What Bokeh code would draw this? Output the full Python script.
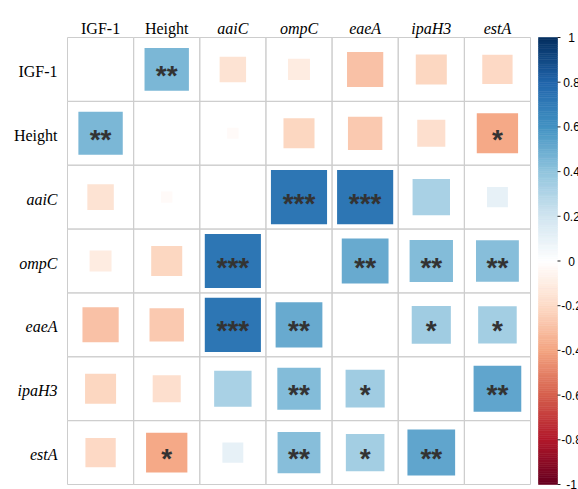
import numpy as np
from bokeh.plotting import figure
from bokeh.models import Range1d, ColumnDataSource, LinearColorMapper
from bokeh.transform import transform
from bokeh.core.properties import value
from bokeh.embed import file_html
from bokeh.resources import INLINE

# ---------------- data ----------------
var_labels = ["IGF-1", "Height", "aaiC", "ompC", "eaeA", "ipaH3", "estA"]
label_styles = ["normal", "normal", "italic", "italic", "italic", "italic", "italic"]

r_igf1 = [None, 0.45, -0.16, -0.11, -0.30, -0.22, -0.21]
r_height = [0.45, None, -0.03, -0.22, -0.27, -0.18, -0.39]
r_aaic = [-0.16, -0.03, None, 0.72, 0.72, 0.32, 0.10]
r_ompc = [-0.11, -0.22, 0.72, None, 0.50, 0.43, 0.42]
r_eaea = [-0.30, -0.27, 0.72, 0.50, None, 0.35, 0.34]
r_ipah3 = [-0.22, -0.18, 0.32, 0.43, 0.35, None, 0.52]
r_esta = [-0.21, -0.39, 0.10, 0.42, 0.34, 0.52, None]
r_matrix = [r_igf1, r_height, r_aaic, r_ompc, r_eaea, r_ipah3, r_esta]

sig_igf1 = ["", "**", "", "", "", "", ""]
sig_height = ["**", "", "", "", "", "", "*"]
sig_aaic = ["", "", "", "***", "***", "", ""]
sig_ompc = ["", "", "***", "", "**", "**", "**"]
sig_eaea = ["", "", "***", "**", "", "*", "*"]
sig_ipah3 = ["", "", "", "**", "*", "", "**"]
sig_esta = ["", "*", "", "**", "*", "**", ""]
sig_matrix = [sig_igf1, sig_height, sig_aaic, sig_ompc, sig_eaea, sig_ipah3, sig_esta]

cbar_ticks = [1.0, 0.8, 0.6, 0.4, 0.2, 0.0, -0.2, -0.4, -0.6, -0.8, -1.0]
cbar_tick_labels = ["1", "0.8", "0.6", "0.4", "0.2", "0", "-0.2", "-0.4", "-0.6", "-0.8", "-1"]

# ---------------- palette (corrplot COL2 'RdBu', 200 colours) ----------------
anchors = ["#67001F", "#B2182B", "#D6604D", "#F4A582", "#FDDBC7", "#FFFFFF",
           "#D1E5F0", "#92C5DE", "#4393C3", "#2166AC", "#053061"]
anc = np.array([[int(c[i:i + 2], 16) for i in (1, 3, 5)] for c in anchors], dtype=float)
pos = np.linspace(0, 1, len(anchors))
t = np.linspace(0, 1, 200)
rgb = np.stack([np.interp(t, pos, anc[:, k]) for k in range(3)], axis=1)
palette = ["#%02x%02x%02x" % tuple(int(round(v)) for v in c) for c in rgb]
mapper = LinearColorMapper(palette=palette, low=-1, high=1)

# ---------------- layout ----------------
W, H = 578, 489
n = len(var_labels)
GRID_LEFT, GRID_W = 67, 463
GRID_TOP, GRID_H = 37, 447
CELL_W = GRID_W / n
ROW_H = GRID_H / n
x_start = -0.5 - GRID_LEFT / CELL_W
x_end = x_start + W / CELL_W
y_end = 0.5 + GRID_TOP / ROW_H
y_start = y_end - H / ROW_H

p = figure(width=W, height=H, x_range=Range1d(x_start, x_end), y_range=Range1d(y_start, y_end),
           output_backend="svg", toolbar_location=None, x_axis_type=None, y_axis_type=None,
           min_border=0)
p.grid.visible = False
p.outline_line_color = None
p.background_fill_color = "white"
p.border_fill_color = "white"

# grid cells
gx, gy = [], []
for i in range(n):
    for j in range(n):
        gx.append(j)
        gy.append(-i)
p.rect(x=gx, y=gy, width=1, height=1, fill_color=None, line_color="#cdcdcd", line_width=1)

# squares
cx, cy, cr, cw, ch, cs = [], [], [], [], [], []
for i in range(n):
    for j in range(n):
        r = r_matrix[i][j]
        if r is None:
            continue
        cx.append(j)
        cy.append(-i)
        cr.append(r)
        side = np.sqrt(abs(r))
        cw.append(side)
        ch.append(side)
        cs.append(sig_matrix[i][j])
src = ColumnDataSource(dict(x=cx, y=cy, r=cr, w=cw, h=ch, sig=cs))
p.rect(x="x", y="y", width="w", height="h", source=src,
       fill_color=transform("r", mapper), line_color=None)

p.text(x="x", y="y", text="sig", source=src, text_align="center", text_baseline="middle",
       y_offset=6, text_font=value("Liberation Sans"), text_font_size="28px",
       text_font_style="bold", text_color="#333333")

# labels
lab_src = ColumnDataSource(dict(idx=list(range(n)), neg=[-i for i in range(n)],
                                top=[0.5] * n, left=[-0.5] * n,
                                lab=var_labels, style=label_styles))
p.text(x="idx", y="top", text="lab", source=lab_src, text_align="center",
       text_baseline="alphabetic", y_offset=-9, text_font=value("Liberation Serif"),
       text_font_size="16px", text_font_style="style", text_color="black")
p.text(x="left", y="neg", text="lab", source=lab_src, text_align="right",
       text_baseline="middle", x_offset=-10, y_offset=2, text_font=value("Liberation Serif"),
       text_font_size="16px", text_font_style="style", text_color="black")

# colour bar
CB_UNIT = GRID_H / 2.0
cb_end = 1 + GRID_TOP / CB_UNIT
cb_start = cb_end - H / CB_UNIT
p.extra_y_ranges = {"cb": Range1d(cb_start, cb_end)}
bar_l = x_start + 538 / CELL_W
bar_r = x_start + 557 / CELL_W
levels = np.linspace(-1, 1, len(palette) + 1)
p.quad(left=bar_l, right=bar_r, bottom=levels[:-1], top=levels[1:], fill_color=palette,
       line_color=palette, line_width=0.6, y_range_name="cb")
p.segment(x0=[bar_r] * len(cbar_ticks), x1=[bar_r + 3 / CELL_W] * len(cbar_ticks),
          y0=cbar_ticks, y1=cbar_ticks, line_color="#222222", line_width=1, y_range_name="cb")
p.text(x=[bar_r] * len(cbar_ticks), y=cbar_ticks, text=cbar_tick_labels, x_offset=14,
       text_align="center", text_baseline="middle", text_font=value("Liberation Sans"),
       text_font_size="12px", text_color="black", y_range_name="cb")

open("out.html", "w").write(file_html(p, INLINE))
